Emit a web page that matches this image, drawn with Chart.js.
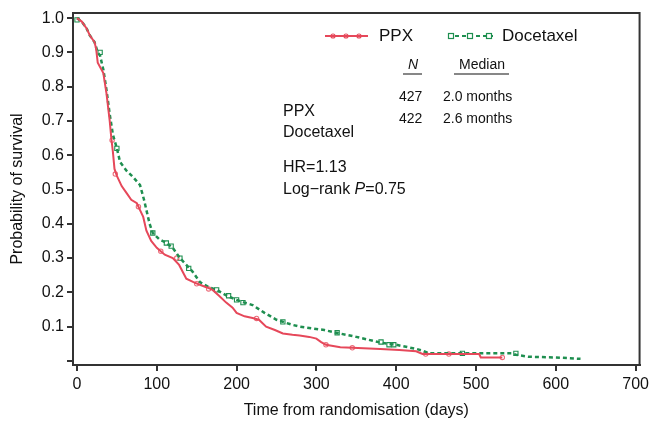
<!DOCTYPE html>
<html>
<head>
<meta charset="utf-8">
<script src="https://cdn.jsdelivr.net/npm/chart.js@4/dist/chart.umd.min.js"></script>
<style>
  body { margin: 0; background: #fff; }
  #wrap { width: 653px; height: 424px; position: relative; }
</style>
</head>
<body>
<div id="wrap"><canvas id="km"></canvas></div>
<script>
// Kaplan-Meier curves (days, probability of survival)
const ppxDays = [0, 6, 12, 16, 22, 24, 26, 33, 37, 41, 43, 45, 47, 50, 56, 62, 68, 75, 79, 83, 87, 93, 100, 110, 120, 128, 137, 146, 154, 162, 170, 178, 187, 195, 200, 210, 220, 228, 237, 248, 258, 270, 279, 291, 300, 306, 312, 330, 345, 380, 404, 425, 433, 470, 504, 506, 533];
const ppxSurv = [1.0, 0.99, 0.97, 0.95, 0.93, 0.91, 0.87, 0.84, 0.78, 0.70, 0.65, 0.61, 0.56, 0.54, 0.51, 0.49, 0.47, 0.46, 0.44, 0.42, 0.38, 0.35, 0.33, 0.31, 0.30, 0.28, 0.24, 0.23, 0.222, 0.215, 0.207, 0.19, 0.17, 0.155, 0.14, 0.13, 0.125, 0.12, 0.10, 0.09, 0.08, 0.076, 0.074, 0.07, 0.065, 0.055, 0.047, 0.04, 0.038, 0.035, 0.032, 0.028, 0.02, 0.02, 0.02, 0.01, 0.01];

const doceDays = [0, 6, 12, 16, 22, 26, 29, 33, 37, 41, 45, 50, 54, 62, 70, 79, 84, 87, 91, 95, 103, 112, 120, 129, 137, 145, 154, 165, 175, 188, 200, 210, 220, 235, 250, 258, 270, 279, 291, 310, 325, 350, 383, 400, 425, 433, 441, 500, 545, 550, 566, 600, 631];
const doceSurv = [1.0, 0.99, 0.97, 0.95, 0.93, 0.90, 0.89, 0.85, 0.79, 0.72, 0.66, 0.62, 0.58, 0.555, 0.537, 0.513, 0.47, 0.44, 0.40, 0.373, 0.355, 0.344, 0.33, 0.30, 0.28, 0.26, 0.23, 0.215, 0.207, 0.19, 0.178, 0.17, 0.163, 0.14, 0.12, 0.114, 0.105, 0.10, 0.096, 0.09, 0.082, 0.07, 0.052, 0.047, 0.035, 0.03, 0.022, 0.022, 0.022, 0.018, 0.012, 0.01, 0.006];

// censoring marks
const ppxCensorDays = [44, 48, 77, 105, 125, 150, 165, 225, 312, 345, 437, 466, 533];
const ppxCensorSurv = [0.644, 0.545, 0.45, 0.32, 0.30, 0.225, 0.21, 0.124, 0.047, 0.038, 0.02, 0.02, 0.01];
const doceCensorDays = [0, 29, 50, 95, 112, 118, 129, 140, 175, 190, 200, 208, 258, 326, 381, 391, 397, 483, 550];
const doceCensorSurv = [0.995, 0.9, 0.62, 0.373, 0.344, 0.335, 0.30, 0.27, 0.207, 0.19, 0.178, 0.17, 0.114, 0.082, 0.055, 0.047, 0.047, 0.022, 0.022];

const xTicks = [0, 100, 200, 300, 400, 500, 600, 700];
const yTicks = [0, 0.1, 0.2, 0.3, 0.4, 0.5, 0.6, 0.7, 0.8, 0.9, 1.0];

const groups = ['PPX', 'Docetaxel'];
const groupN = ['427', '422'];
const groupMedian = ['2.0 months', '2.6 months'];

const red = '#e6485a';
const green = '#1f8f50';
const FONT = '"Liberation Sans", Arial, sans-serif';

const toPoints = (xs, ys) => xs.map((x, i) => ({ x: x, y: ys[i] }));

const annotate = {
  id: 'annotate',
  afterDraw(chart) {
    const ctx = chart.ctx;
    const a = chart.chartArea;
    ctx.save();
    // frame
    ctx.strokeStyle = '#333';
    ctx.lineWidth = 2;
    ctx.strokeRect(a.left, a.top, a.right - a.left, a.bottom - a.top);

    ctx.fillStyle = '#111';
    ctx.textBaseline = 'middle';

    // legend
    ctx.font = '17px ' + FONT;
    ctx.strokeStyle = red;
    ctx.lineWidth = 2;
    ctx.setLineDash([]);
    ctx.beginPath(); ctx.moveTo(325, 36); ctx.lineTo(368, 36); ctx.stroke();
    ctx.lineWidth = 1.2;
    [333, 346, 359].forEach(x => {
      ctx.beginPath(); ctx.arc(x, 36, 2, 0, Math.PI * 2); ctx.stroke();
    });
    ctx.fillText(groups[0], 379, 36);
    ctx.strokeStyle = green;
    ctx.lineWidth = 2;
    ctx.setLineDash([4, 3]);
    ctx.beginPath(); ctx.moveTo(448, 36); ctx.lineTo(493, 36); ctx.stroke();
    ctx.setLineDash([]);
    ctx.lineWidth = 1.2;
    [451, 470, 489].forEach(x => {
      ctx.fillStyle = '#fff';
      ctx.fillRect(x - 2.5, 33.5, 5, 5);
      ctx.strokeRect(x - 2.5, 33.5, 5, 5);
    });
    ctx.fillStyle = '#111';
    ctx.fillText(groups[1], 502, 36);

    // N / Median table
    ctx.font = 'italic 14px ' + FONT;
    ctx.textAlign = 'center';
    ctx.fillText('N', 413, 65);
    ctx.font = '14px ' + FONT;
    ctx.fillText('Median', 482, 65);
    ctx.strokeStyle = '#111';
    ctx.lineWidth = 1.2;
    ctx.beginPath();
    ctx.moveTo(403, 74); ctx.lineTo(422, 74);
    ctx.moveTo(454, 74); ctx.lineTo(509, 74);
    ctx.stroke();
    ctx.textAlign = 'left';
    ctx.fillText(groupN[0], 399, 97);
    ctx.fillText(groupMedian[0], 443, 97);
    ctx.fillText(groupN[1], 399, 119);
    ctx.fillText(groupMedian[1], 443, 119);

    // group names and statistics
    ctx.font = '16px ' + FONT;
    ctx.fillText(groups[0], 283, 112);
    ctx.fillText(groups[1], 283, 133);
    ctx.fillText('HR=1.13', 283, 168);
    const pre = 'Log\u2212rank ';
    ctx.fillText(pre, 283, 190);
    let x = 283 + ctx.measureText(pre).width;
    ctx.font = 'italic 16px ' + FONT;
    ctx.fillText('P', x, 190);
    x += ctx.measureText('P').width;
    ctx.font = '16px ' + FONT;
    ctx.fillText('=0.75', x, 190);
    ctx.restore();
  }
};

new Chart(document.getElementById('km'), {
  type: 'scatter',
  data: {
    datasets: [
      {
        label: 'PPX',
        data: toPoints(ppxDays, ppxSurv),
        showLine: true,
        borderColor: red,
        borderWidth: 2,
        pointRadius: 0,
        tension: 0,
      },
      {
        label: 'Docetaxel',
        data: toPoints(doceDays, doceSurv),
        showLine: true,
        borderColor: green,
        borderWidth: 2.5,
        borderDash: [4, 3],
        pointRadius: 0,
        tension: 0,
      },
      {
        label: 'PPX censored',
        data: toPoints(ppxCensorDays, ppxCensorSurv),
        pointStyle: 'circle',
        pointRadius: 2.2,
        borderColor: 'rgba(230,72,90,0.8)',
        backgroundColor: 'rgba(255,255,255,0.5)',
        borderWidth: 1.1,
      },
      {
        label: 'Docetaxel censored',
        data: toPoints(doceCensorDays, doceCensorSurv),
        pointStyle: 'rect',
        pointRadius: 3,
        borderColor: green,
        backgroundColor: 'rgba(255,255,255,0.5)',
        borderWidth: 1.1,
      },
    ],
  },
  options: {
    responsive: true,
    maintainAspectRatio: false,
    animation: false,
    layout: { padding: { top: 13, right: 10, left: 0, bottom: 0 } },
    plugins: {
      legend: { display: false },
      tooltip: { enabled: false },
    },
    scales: {
      x: {
        type: 'linear',
        min: -5,
        max: 705,
        afterBuildTicks: (scale) => { scale.ticks = xTicks.map(v => ({ value: v })); },
        afterFit: (scale) => { scale.height = 59; },
        grid: { drawOnChartArea: false, tickLength: 6, color: '#333', lineWidth: 2 },
        border: { display: true, color: '#333', width: 2 },
        ticks: { color: '#111', font: { family: FONT, size: 16 }, padding: 4, maxRotation: 0 },
        title: {
          display: true,
          text: 'Time from randomisation (days)',
          color: '#111',
          font: { family: FONT, size: 16 },
          padding: { top: 0, bottom: 4 },
        },
      },
      y: {
        type: 'linear',
        min: -0.012,
        max: 1.015,
        afterBuildTicks: (scale) => { scale.ticks = yTicks.map(v => ({ value: v })); },
        afterFit: (scale) => { scale.width = 73; },
        grid: { drawOnChartArea: false, tickLength: 6, color: '#333', lineWidth: 2 },
        border: { display: true, color: '#333', width: 2 },
        ticks: {
          color: '#111',
          font: { family: FONT, size: 16 },
          padding: 3,
          callback: (v) => (v === 0 ? '' : v.toFixed(1)),
        },
        title: {
          display: true,
          text: 'Probability of survival',
          color: '#111',
          font: { family: FONT, size: 16 },
          padding: { top: 8, bottom: 0 },
        },
      },
    },
  },
  plugins: [annotate],
});
</script>
</body>
</html>
